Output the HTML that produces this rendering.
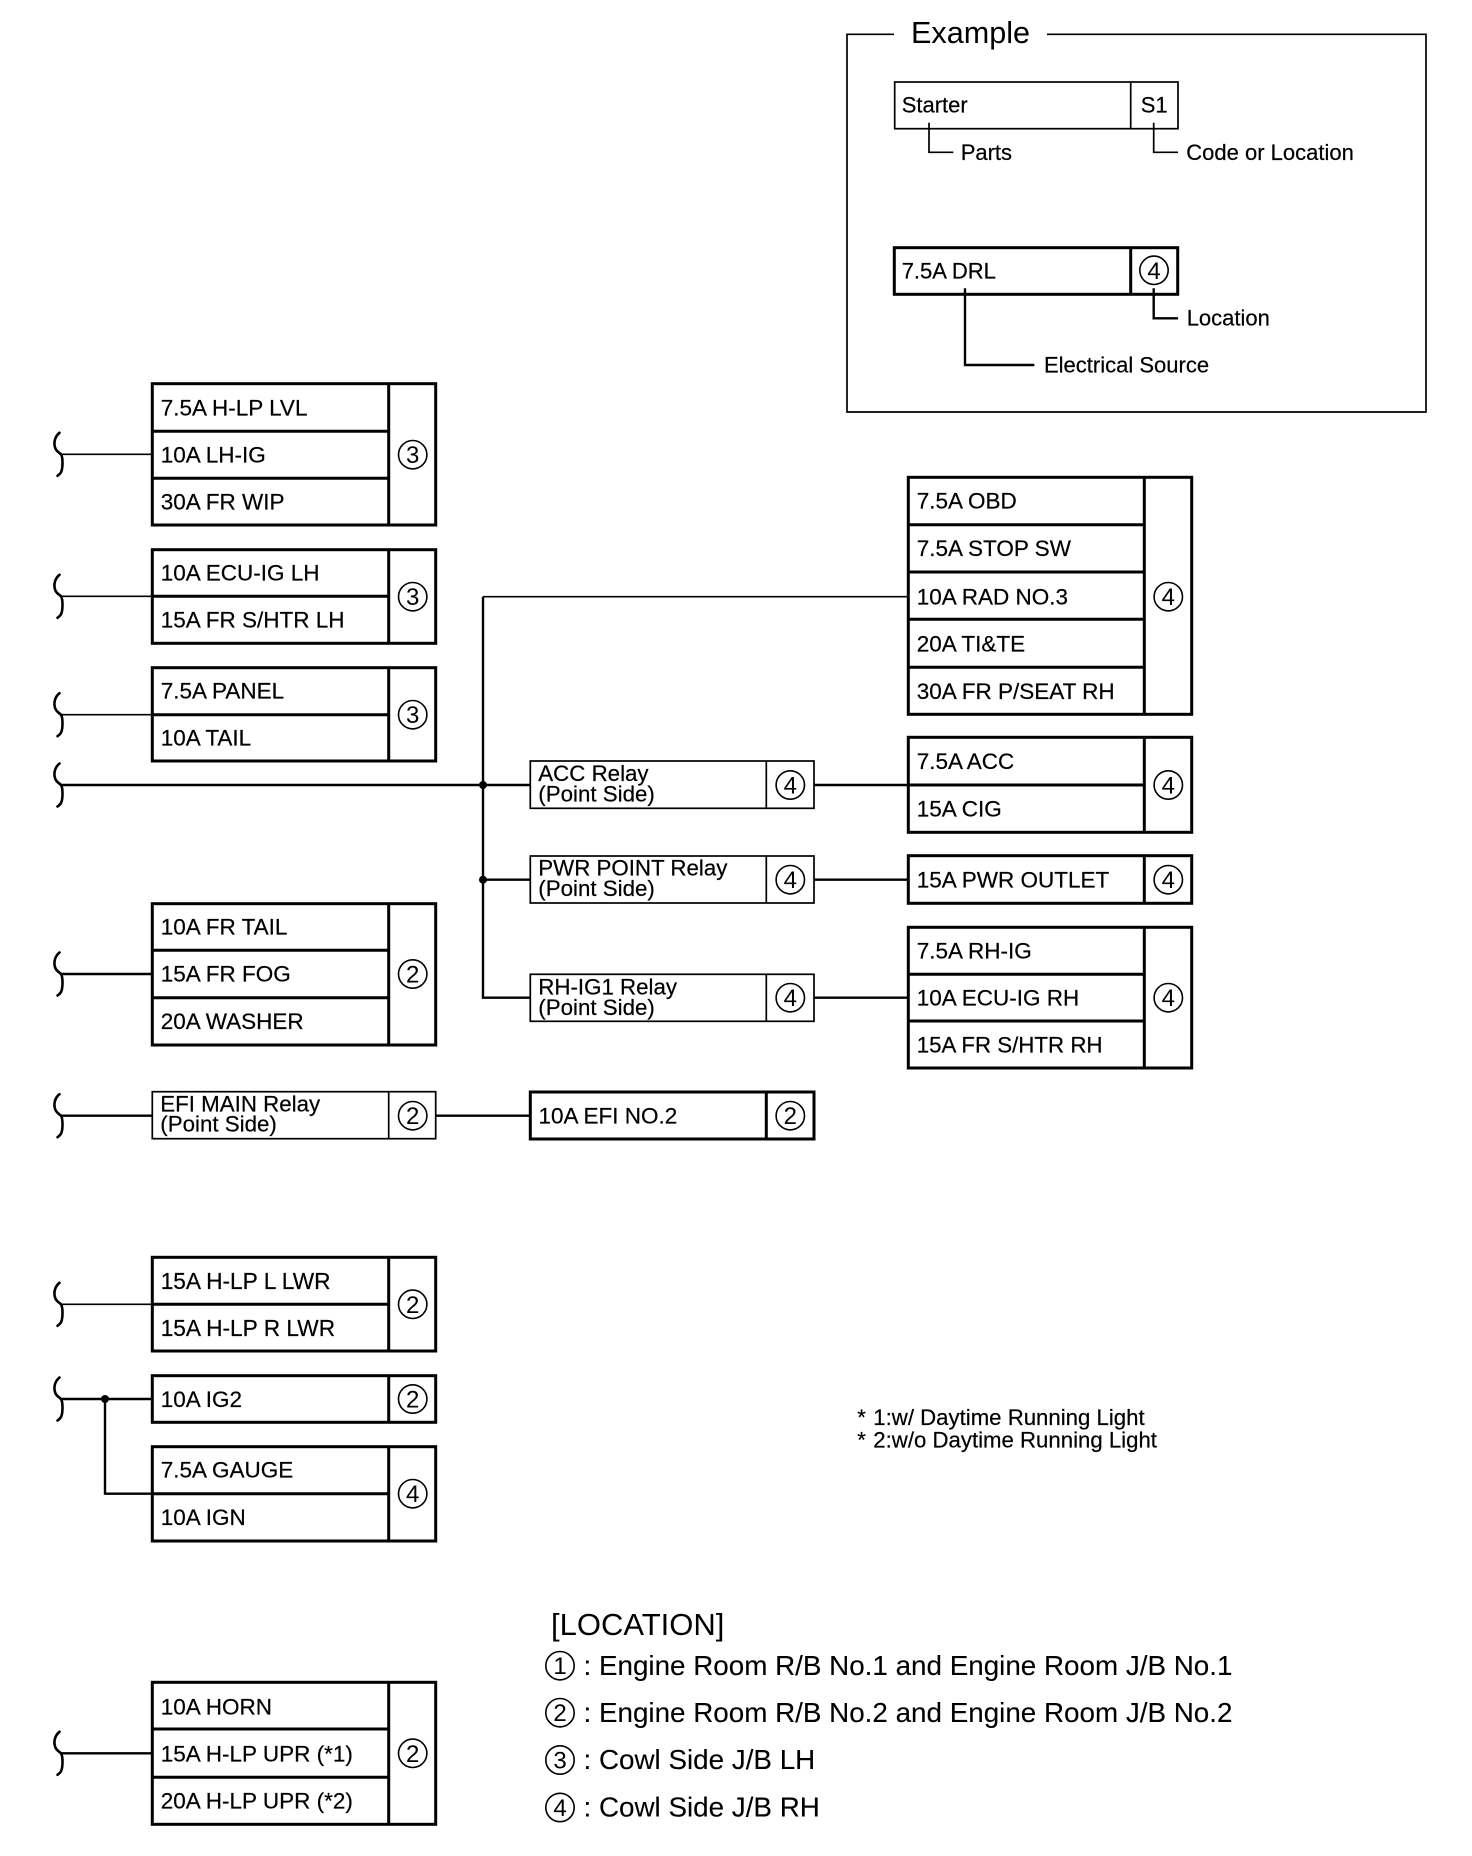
<!DOCTYPE html>
<html><head><meta charset="utf-8"><title>Power source diagram</title>
<style>
html,body{margin:0;padding:0;background:#fff}
svg{display:block}
text{font-family:"Liberation Sans",sans-serif;font-size:22.5px;fill:#000;stroke:#000;stroke-width:.2;transform:translateX(-1px)}
text.n{text-anchor:middle;font-size:24px;stroke-width:0;transform:none}
.k{fill:none;stroke:#000;stroke-width:3}
.m{fill:none;stroke:#000;stroke-width:2.4}
.s{fill:none;stroke:#000;stroke-width:1.7}
.c{fill:none;stroke:#000;stroke-width:1.6}
.br{fill:none;stroke:#000;stroke-width:2.6;stroke-linecap:round}
text.big{font-size:30.6px;stroke-width:0}
text.huge{font-size:31px;stroke-width:0}
text.loc{font-size:27.8px;stroke-width:.1}
text.note{font-size:22.2px}
text.e{font-size:22px}
text.r{font-size:22.3px}
</style></head>
<body>
<svg width="1472" height="1856" viewBox="0 0 1472 1856" xmlns="http://www.w3.org/2000/svg">
<defs>
<path id="b" class="br" d="M59.5 -21.5 C55 -18 53.5 -12 55 -7 C56 -3 59 -2 61 0 C63 3 63 14 61 18 C60 20 58 21 57.5 21.5"/>
</defs>
<rect width="1472" height="1856" fill="#fff"/>

<!-- Example -->
<path class="s" d="M894 34.3 H847 V412 H1426 V34.3 H1047"/>
<text class="big" x="912" y="43">Example</text>
<rect class="s" x="894.7" y="82" width="283.3" height="46.7"/>
<path class="s" d="M1130.7 82 V128.7"/>
<text class="e" x="902.7" y="112.7">Starter</text>
<text class="e" x="1141.7" y="112.7">S1</text>
<path class="s" d="M929 122.7 V152.3 H953.3 M1153.7 122.7 V152.3 H1178"/>
<text class="e" x="961.7" y="160">Parts</text>
<text class="e" x="1187.3" y="160">Code or Location</text>
<rect class="k" x="894.3" y="247.7" width="283.4" height="46.6"/>
<path class="k" d="M1130.7 247.7 V294.3"/>
<text class="e" x="902.7" y="278.3">7.5A DRL</text>
<circle class="c" cx="1154" cy="270.3" r="14.2"/>
<text class="n" x="1154" y="278.8">4</text>
<path class="m" d="M1153.7 288.3 V318.3 H1178 M965 288.3 V365 H1034.3"/>
<text class="e" x="1187.7" y="325.7">Location</text>
<text class="e" x="1045" y="372.7">Electrical Source</text>

<!-- Braces and feed lines -->
<use href="#b" x="0" y="454.3"/><path class="s" d="M61 454.3 H152"/>
<use href="#b" x="0" y="596.3"/><path class="s" d="M61 596.3 H152"/>
<use href="#b" x="0" y="714.7"/><path class="s" d="M61 714.7 H152"/>
<use href="#b" x="0" y="785"/><path class="m" d="M61 785 H530"/>
<use href="#b" x="0" y="974"/><path class="m" d="M61 974 H152"/>
<use href="#b" x="0" y="1115.7"/><path class="m" d="M61 1115.7 H152"/>
<use href="#b" x="0" y="1304.3"/><path class="s" d="M61 1304.3 H152"/>
<use href="#b" x="0" y="1399"/><path class="m" d="M61 1399 H152"/>
<use href="#b" x="0" y="1753.3"/><path class="m" d="M61 1753.3 H152"/>

<!-- Bus -->
<path class="s" d="M483 596.7 H907"/>
<path class="m" d="M483 596.7 V997.7 H530"/>
<path class="m" d="M483 879.7 H530"/>
<circle cx="483" cy="785" r="4"/>
<circle cx="483" cy="879.7" r="4"/>
<path class="m" d="M814 785 H907 M814 879.7 H907 M814 997.7 H907 M436 1115.7 H530"/>
<path class="m" d="M105 1399 V1493.7 H152"/>
<circle cx="105" cy="1399" r="4"/>

<!-- Left column -->
<rect class="k" x="152.3" y="383.7" width="283.4" height="141.3"/>
<path class="k" d="M388.7 383.7 V525 M152.3 431.3 H388.7 M152.3 478.3 H388.7"/>
<text x="161.7" y="415.5">7.5A H-LP LVL</text>
<text x="161.7" y="462.3">10A LH-IG</text>
<text x="161.7" y="509.7">30A FR WIP</text>
<circle class="c" cx="412.7" cy="454.7" r="14.2"/><text class="n" x="412.7" y="463.2">3</text>

<rect class="k" x="152.3" y="549.7" width="283.4" height="93.6"/>
<path class="k" d="M388.7 549.7 V643.3 M152.3 596.3 H388.7"/>
<text x="161.7" y="580.7">10A ECU-IG LH</text>
<text x="161.7" y="627.7">15A FR S/HTR LH</text>
<circle class="c" cx="412.7" cy="596.7" r="14.2"/><text class="n" x="412.7" y="605.2">3</text>

<rect class="k" x="152.3" y="667.7" width="283.4" height="93.3"/>
<path class="k" d="M388.7 667.7 V761 M152.3 714.7 H388.7"/>
<text x="161.7" y="698.7">7.5A PANEL</text>
<text x="161.7" y="745.7">10A TAIL</text>
<circle class="c" cx="412.7" cy="714.7" r="14.2"/><text class="n" x="412.7" y="723.2">3</text>

<rect class="k" x="152.3" y="903.7" width="283.4" height="141.3"/>
<path class="k" d="M388.7 903.7 V1045 M152.3 950.3 H388.7 M152.3 997.7 H388.7"/>
<text x="161.7" y="934.7">10A FR TAIL</text>
<text x="161.7" y="981.7">15A FR FOG</text>
<text x="161.7" y="1029">20A WASHER</text>
<circle class="c" cx="412.7" cy="974" r="14.2"/><text class="n" x="412.7" y="982.5">2</text>

<rect class="s" x="152.3" y="1091.7" width="283.4" height="47"/>
<path class="s" d="M388.7 1091.7 V1138.7"/>
<text class="r" x="161.3" y="1111.3">EFI MAIN Relay</text>
<text class="r" x="161.3" y="1131.7">(Point Side)</text>
<circle class="c" cx="412.7" cy="1115.7" r="14.2"/><text class="n" x="412.7" y="1124.2">2</text>

<rect class="k" x="152.3" y="1257.3" width="283.4" height="93.7"/>
<path class="k" d="M388.7 1257.3 V1351 M152.3 1304.3 H388.7"/>
<text x="161.7" y="1289" style="font-size:22.7px">15A H-LP L LWR</text>
<text x="161.7" y="1336" style="font-size:22.7px">15A H-LP R LWR</text>
<circle class="c" cx="412.7" cy="1304.3" r="14.2"/><text class="n" x="412.7" y="1312.8">2</text>

<rect class="k" x="152.3" y="1375.7" width="283.4" height="46.6"/>
<path class="k" d="M388.7 1375.7 V1422.3"/>
<text x="161.7" y="1407">10A IG2</text>
<circle class="c" cx="412.7" cy="1399" r="14.2"/><text class="n" x="412.7" y="1407.5">2</text>

<rect class="k" x="152.3" y="1446.7" width="283.4" height="94.3"/>
<path class="k" d="M388.7 1446.7 V1541 M152.3 1493.7 H388.7"/>
<text x="161.7" y="1477.3">7.5A GAUGE</text>
<text x="161.7" y="1525">10A IGN</text>
<circle class="c" cx="412.7" cy="1493.7" r="14.2"/><text class="n" x="412.7" y="1502.2">4</text>

<rect class="k" x="152.3" y="1682.3" width="283.4" height="142"/>
<path class="k" d="M388.7 1682.3 V1824.3 M152.3 1729 H388.7 M152.3 1777.3 H388.7"/>
<text x="161.7" y="1714.3">10A HORN</text>
<text x="161.7" y="1761.7">15A H-LP UPR (*1)</text>
<text x="161.7" y="1808.7">20A H-LP UPR (*2)</text>
<circle class="c" cx="412.7" cy="1753.3" r="14.2"/><text class="n" x="412.7" y="1761.8">2</text>

<!-- Middle column -->
<rect class="s" x="530.3" y="761" width="283.7" height="47.3"/>
<path class="s" d="M766.3 761 V808.3"/>
<text class="r" x="539.3" y="781">ACC Relay</text>
<text class="r" x="539.3" y="801.7">(Point Side)</text>
<circle class="c" cx="790.3" cy="785" r="14.2"/><text class="n" x="790.3" y="793.5">4</text>

<rect class="s" x="530.3" y="856" width="283.7" height="47"/>
<path class="s" d="M766.3 856 V903"/>
<text class="r" x="539.3" y="875.3">PWR POINT Relay</text>
<text class="r" x="539.3" y="896">(Point Side)</text>
<circle class="c" cx="790.3" cy="879.7" r="14.2"/><text class="n" x="790.3" y="888.2">4</text>

<rect class="s" x="530.3" y="974.3" width="283.7" height="47"/>
<path class="s" d="M766.3 974.3 V1021.3"/>
<text class="r" x="539.3" y="994.3">RH-IG1 Relay</text>
<text class="r" x="539.3" y="1015">(Point Side)</text>
<circle class="c" cx="790.3" cy="997.7" r="14.2"/><text class="n" x="790.3" y="1006.2">4</text>

<rect class="k" x="530.3" y="1092" width="283.7" height="47"/>
<path class="k" d="M766.3 1092 V1139"/>
<text x="539.5" y="1123.7">10A EFI NO.2</text>
<circle class="c" cx="790.3" cy="1115.7" r="14.2"/><text class="n" x="790.3" y="1124.2">2</text>

<!-- Right column -->
<rect class="k" x="908.3" y="477.3" width="283.4" height="237"/>
<path class="k" d="M1144.3 477.3 V714.3 M908.3 524.7 H1144.3 M908.3 572 H1144.3 M908.3 619.3 H1144.3 M908.3 667.3 H1144.3"/>
<text x="917.7" y="508.3">7.5A OBD</text>
<text x="917.7" y="556">7.5A STOP SW</text>
<text x="917.7" y="604.3">10A RAD NO.3</text>
<text x="917.7" y="651.7">20A TI&amp;TE</text>
<text x="917.7" y="699">30A FR P/SEAT RH</text>
<circle class="c" cx="1168.3" cy="596.7" r="14.2"/><text class="n" x="1168.3" y="605.2">4</text>

<rect class="k" x="908.3" y="737.3" width="283.4" height="95"/>
<path class="k" d="M1144.3 737.3 V832.3 M908.3 785 H1144.3"/>
<text x="917.7" y="769">7.5A ACC</text>
<text x="917.7" y="816.7">15A CIG</text>
<circle class="c" cx="1168.3" cy="785" r="14.2"/><text class="n" x="1168.3" y="793.5">4</text>

<rect class="k" x="908.3" y="855.7" width="283.4" height="47.6"/>
<path class="k" d="M1144.3 855.7 V903.3"/>
<text x="917.7" y="887.3">15A PWR OUTLET</text>
<circle class="c" cx="1168.3" cy="879.7" r="14.2"/><text class="n" x="1168.3" y="888.2">4</text>

<rect class="k" x="908.3" y="927.3" width="283.4" height="140.7"/>
<path class="k" d="M1144.3 927.3 V1068 M908.3 974.3 H1144.3 M908.3 1021 H1144.3"/>
<text x="917.7" y="958.5">7.5A RH-IG</text>
<text x="917.7" y="1005.3">10A ECU-IG RH</text>
<text x="917.7" y="1052.5" style="font-size:22.3px">15A FR S/HTR RH</text>
<circle class="c" cx="1168.3" cy="997.7" r="14.2"/><text class="n" x="1168.3" y="1006.2">4</text>

<!-- Notes -->
<text class="note" x="858.3" y="1425">*</text>
<text class="note" x="874.3" y="1425">1:w/ Daytime Running Light</text>
<text class="note" x="858.3" y="1447.5">*</text>
<text class="note" x="874.3" y="1447.5">2:w/o Daytime Running Light</text>

<!-- Location legend -->
<text class="huge" x="552" y="1635">[LOCATION]</text>
<circle class="c" cx="560" cy="1665.7" r="14.2"/><text class="n" x="560" y="1674.2">1</text>
<text class="loc" x="584.5" y="1675">: Engine Room R/B No.1 and Engine Room J/B No.1</text>
<circle class="c" cx="560" cy="1712.7" r="14.2"/><text class="n" x="560" y="1721.2">2</text>
<text class="loc" x="584.5" y="1722">: Engine Room R/B No.2 and Engine Room J/B No.2</text>
<circle class="c" cx="560" cy="1760" r="14.2"/><text class="n" x="560" y="1768.5">3</text>
<text class="loc" x="584.5" y="1769">: Cowl Side J/B LH</text>
<circle class="c" cx="560" cy="1807.5" r="14.2"/><text class="n" x="560" y="1816">4</text>
<text class="loc" x="584.5" y="1816.5">: Cowl Side J/B RH</text>
</svg>
</body></html>
